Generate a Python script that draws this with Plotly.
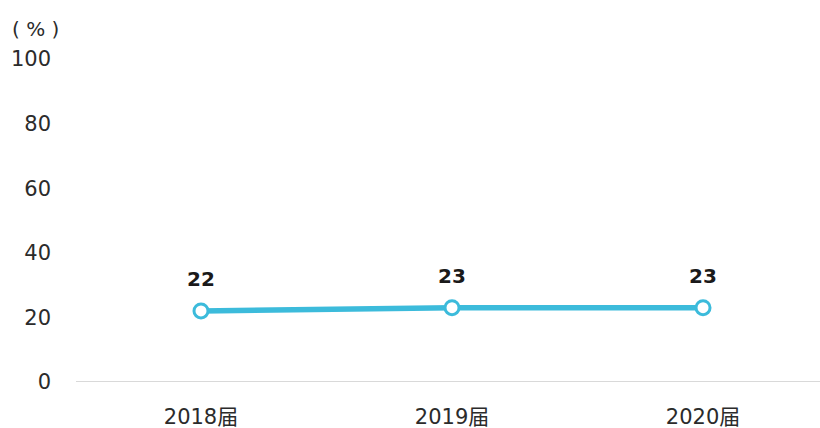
import plotly.graph_objects as go

# Graduating cohorts and their share (%)
cohorts = ["2018届", "2019届", "2020届"]
shares = [22, 23, 23]
y_ticks = [0, 20, 40, 60, 80, 100]

line_color = "#3CBBDB"
text_color = "#2B2B2B"
font_family = "DejaVu Sans, Noto Sans CJK SC, sans-serif"

x_pos = list(range(len(cohorts)))

fig = go.Figure()
fig.add_trace(go.Scatter(
    x=x_pos,
    y=shares,
    mode="lines+markers",
    line=dict(color=line_color, width=5.5),
    marker=dict(size=14, color="white", line=dict(color=line_color, width=3)),
    hoverinfo="skip",
))

# Value labels above each point
value_labels = [
    dict(
        x=x, y=v, xref="x", yref="y",
        text=f"<b>{v}</b>",
        showarrow=False, yshift=32,
        xanchor="center", yanchor="middle",
        font=dict(size=20, color="#1a1a1a"),
    )
    for x, v in zip(x_pos, shares)
]

fig.update_layout(
    width=820,
    height=428,
    margin=dict(l=76, r=0, t=59, b=46),
    paper_bgcolor="white",
    plot_bgcolor="white",
    showlegend=False,
    font=dict(family=font_family, color=text_color, size=21),
    xaxis=dict(
        range=[-0.498, 2.466],
        tickmode="array",
        tickvals=x_pos,
        ticktext=cohorts,
        showgrid=False,
        zeroline=False,
        showline=False,
        ticks="",
        ticklabelstandoff=20,
        tickfont=dict(size=21, color=text_color),
    ),
    yaxis=dict(
        range=[0, 100],
        tickvals=y_ticks,
        showgrid=False,
        zeroline=False,
        showline=False,
        ticks="",
        ticklabelstandoff=24,
        tickfont=dict(size=21, color=text_color),
    ),
    shapes=[dict(
        type="line", xref="paper", yref="y",
        x0=0, x1=1, y0=0, y1=0,
        line=dict(color="#D9D9D9", width=2),
        layer="below",
    )],
    annotations=value_labels + [dict(
        text="( % )",
        xref="paper", yref="paper",
        x=-0.055, y=1.0, yshift=30,
        xanchor="center", yanchor="middle",
        showarrow=False,
        font=dict(size=20, color=text_color),
    )],
)

fig.write_html("out.html")
